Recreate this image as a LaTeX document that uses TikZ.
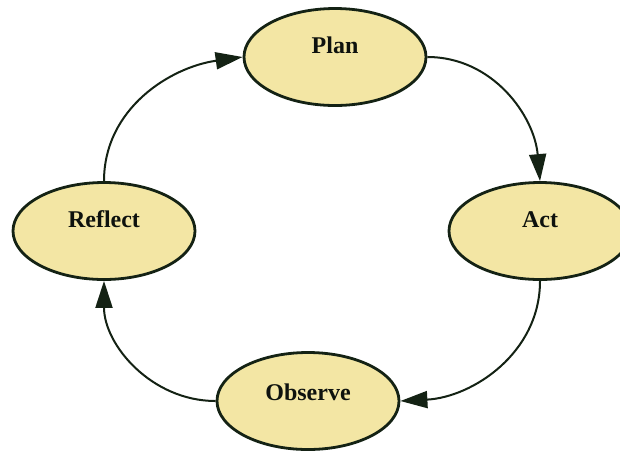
\documentclass[tikz,border=0pt]{standalone}
\usepackage{fontspec}
\setmainfont{Liberation Serif}
\usetikzlibrary{shapes.geometric,arrows.meta}

\definecolor{stagefill}{RGB}{243,230,164}
\definecolor{inkline}{RGB}{20,34,20}
\definecolor{inktext}{RGB}{14,18,14}

\tikzset{
  stage/.style={ellipse, draw=inkline, line width=2.8pt, fill=stagefill,
    minimum width=182pt, minimum height=97pt, inner sep=0pt},
  caption/.style={text=inktext, font=\fontsize{24}{28}\selectfont\bfseries,
    inner sep=0pt},
  flow/.style={draw=inkline, line width=2pt,
    -{Triangle[length=27pt,width=17pt]}},
}

\begin{document}
\begin{tikzpicture}[x=1pt,y=-1pt]
  \useasboundingbox (0,0) rectangle (620,451);

  % the four stages of the cycle
  \node[stage] (plan)    at (335,57)  {};
  \node[stage] (act)     at (540,231) {};
  \node[stage] (observe) at (308,401) {};
  \node[stage] (reflect) at (104,231) {};

  % stage names, set a little above each centre
  \node[caption] (plan-t)    at ([yshift=12pt]plan.center)    {Plan};
  \node[caption] (act-t)     at ([yshift=11pt]act.center)     {Act};
  \node[caption] (observe-t) at ([yshift=9pt]observe.center)  {Observe};
  \node[caption] (reflect-t) at ([yshift=12pt]reflect.center) {Reflect};

  % curved arrows running clockwise round the cycle
  \draw[flow] (plan.east)    to[out=0,   in=95]  (act.north);
  \draw[flow] (act.south)    to[out=-90, in=3]   (observe.east);
  \draw[flow] (observe.west) to[out=180, in=-90] (reflect.south);
  \draw[flow] (reflect.north) to[out=90, in=188] (plan.west);
\end{tikzpicture}
\end{document}
